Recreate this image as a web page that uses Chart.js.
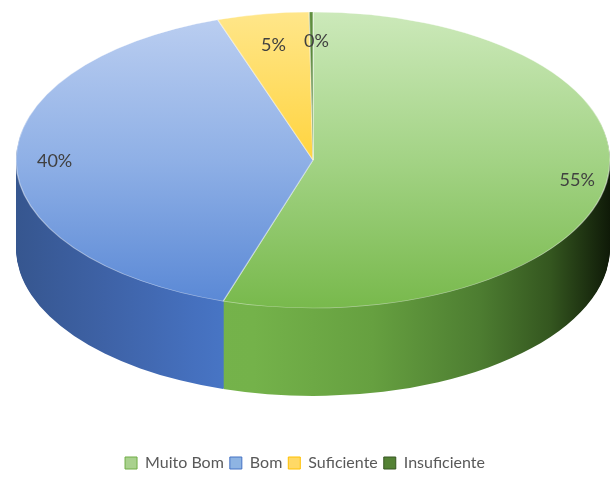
<!DOCTYPE html>
<html>
<head>
<meta charset="utf-8">
<script src="https://cdn.jsdelivr.net/npm/chart.js@4.4.1/dist/chart.umd.min.js"></script>
<style>
  html, body { margin: 0; padding: 0; background: #ffffff; }
  #wrap { width: 610px; height: 490px; }
</style>
</head>
<body>
<div id="wrap"><canvas id="c" width="610" height="490"></canvas></div>
<script>
// ---- data ----
const categories = ["Muito Bom", "Bom", "Suficiente", "Insuficiente"];
const values = [55, 40, 5, 0.2];
const percentLabels = ["55%", "40%", "5%", "0%"];

// ---- styles ----
const topColors = [
  [[0, "#cce9ba"], [0.5, "#a3d385"], [1, "#78b94c"]],
  [[0, "#bccff1"], [0.5, "#8fb0e6"], [1, "#5887d5"]],
  [[0, "#ffe68a"], [0.5, "#ffd43f"], [1, "#ffc000"]],
  [[0, "#5f8f3e"], [0.5, "#4d7a30"], [1, "#3d6426"]]
];
const sideColors = [
  [[0, "#78b54c"], [0.4, "#74b24a"], [0.6, "#66a040"], [0.78, "#4d7d31"], [0.9, "#34561f"], [1, "#0f1a08"]],
  [[0, "#36568f"], [0.15, "#3e62a6"], [0.3, "#4570be"], [0.4, "#4a7acb"], [1, "#5585d6"]],
  [[0, "#e0a800"], [0.5, "#ffc000"], [1, "#c79500"]],
  [[0, "#3b6325"], [0.5, "#2d4f1b"], [1, "#1a2e10"]]
];
const legendFill = ["#a9d18e", "#8eb4e3", "#ffd966", "#548235"];
const legendStroke = ["#70ad47", "#4472c4", "#ffc000", "#375623"];
const labelRadius = [0.9, 0.87, 0.79, 0.8];

// projection of the flat pie into a tilted 3D disc
const PROJ = { cx: 313, cy: 160, rx: 297, ry: 148, depth: 88 };

function project(chart, px, py) {
  const a = chart.getDatasetMeta(0).data[0];
  const r = a.outerRadius;
  return [PROJ.cx + (px - a.x) * PROJ.rx / r, PROJ.cy + (py - a.y) * PROJ.ry / r];
}

const pie3d = {
  id: 'pie3d',
  beforeDatasetsDraw(chart) {
    const ctx = chart.ctx;
    const meta = chart.getDatasetMeta(0);
    const arcs = meta.data;
    const a0 = arcs[0];
    const r = a0.outerRadius, ax = a0.x, ay = a0.y;
    const sx = PROJ.rx / r, sy = PROJ.ry / r;

    function withTransform(dy, fn) {
      ctx.save();
      ctx.translate(PROJ.cx, PROJ.cy + dy);
      ctx.scale(sx, sy);
      ctx.translate(-ax, -ay);
      fn();
      ctx.restore();
    }
    const sideGrads = sideColors.map(stops => {
      const g = ctx.createLinearGradient(ax - r, 0, ax + r, 0);
      stops.forEach(([p, c]) => g.addColorStop(p, c));
      return g;
    });
    const topGrads = topColors.map(stops => {
      const g = ctx.createLinearGradient(0, ay - r, 0, ay + r);
      stops.forEach(([p, c]) => g.addColorStop(p, c));
      return g;
    });
    function drawArc(arc, fill, border, bw) {
      const saved = arc.options;
      arc.options = Object.assign({}, saved, { backgroundColor: fill, borderColor: border, borderWidth: bw, offset: 0, spacing: 0 });
      arc.draw(ctx);
      arc.options = saved;
    }
    for (let d = PROJ.depth; d > 0; d -= 1) {
      withTransform(d, () => {
        arcs.forEach((arc, i) => drawArc(arc, sideGrads[i], 'rgba(0,0,0,0)', 0));
      });
    }
    withTransform(0, () => {
      arcs.forEach((arc, i) => drawArc(arc, topGrads[i], 'rgba(255,255,255,0.45)', 1));
    });
    return false;
  },
  afterDraw(chart) {
    const ctx = chart.ctx;
    const arcs = chart.getDatasetMeta(0).data;
    ctx.save();
    ctx.font = '18px Lato, "Open Sans", sans-serif';
    ctx.fillStyle = '#404040';
    ctx.textAlign = 'center';
    ctx.textBaseline = 'middle';
    arcs.forEach((arc, i) => {
      const mid = (arc.startAngle + arc.endAngle) / 2;
      const rr = arc.outerRadius * labelRadius[i];
      const [x, y] = project(chart, arc.x + Math.cos(mid) * rr, arc.y + Math.sin(mid) * rr);
      ctx.fillText(percentLabels[i], x + (i === 3 ? 5 : 0), y);
    });
    ctx.restore();
  }
};

new Chart(document.getElementById('c'), {
  type: 'pie',
  data: {
    labels: categories,
    datasets: [{
      data: values,
      backgroundColor: legendFill,
      borderColor: legendStroke,
      borderWidth: 0
    }]
  },
  options: {
    responsive: false,
    animation: false,
    layout: { padding: { top: 10, bottom: 9, left: 10, right: 10 } },
    plugins: {
      tooltip: { enabled: false },
      legend: {
        position: 'bottom',
        labels: {
          font: { family: 'Lato, "Open Sans", sans-serif', size: 16 },
          color: '#595959',
          boxWidth: 12,
          boxHeight: 12,
          padding: 6,
          generateLabels(chart) {
            return categories.map((c, i) => ({
              text: c,
              fillStyle: legendFill[i],
              strokeStyle: legendStroke[i],
              lineWidth: 1,
              fontColor: '#595959',
              hidden: false,
              index: i
            }));
          }
        }
      }
    }
  },
  plugins: [pie3d]
});
</script>
</body>
</html>
